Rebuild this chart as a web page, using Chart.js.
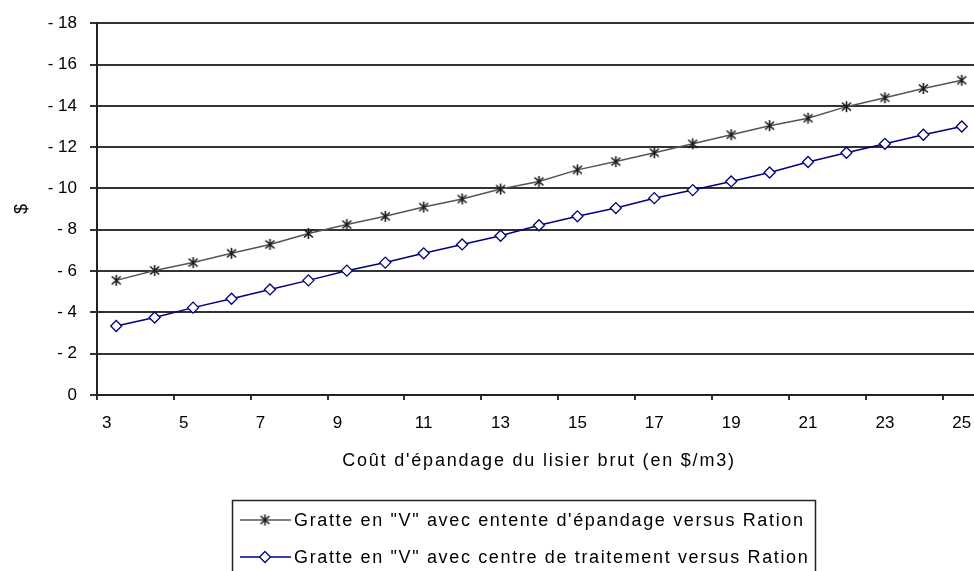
<!DOCTYPE html>
<html lang="fr">
<head>
<meta charset="utf-8">
<title>Coût d'épandage du lisier brut</title>
<script src="https://cdn.jsdelivr.net/npm/chart.js@4.4.1/dist/chart.umd.min.js"></script>
<style>
  html, body { margin: 0; padding: 0; background: #fff; overflow: hidden; }
  #wrap { position: relative; width: 990px; height: 571px; }
</style>
</head>
<body>
<div id="wrap"><canvas id="chart"></canvas></div>
<script>
/* Gratte en "V" — écart de coût vs Ration, selon le coût d'épandage */

// ── Data ────────────────────────────────────────────────────

const COSTS = [3, 4, 5, 6, 7, 8, 9, 10, 11, 12, 13, 14, 15, 16, 17, 18, 19, 20, 21, 22, 23, 24, 25];

const ENTENTE = [-5.55, -6.03, -6.41, -6.86, -7.29, -7.82, -8.25, -8.65, -9.10, -9.49, -9.97, -10.34,
                 -10.90, -11.30, -11.73, -12.16, -12.60, -13.04, -13.40, -13.96, -14.39, -14.84, -15.24];

const TRAITEMENT = [-3.34, -3.75, -4.23, -4.66, -5.11, -5.55, -6.02, -6.41, -6.86, -7.29, -7.71, -8.22,
                    -8.65, -9.05, -9.53, -9.92, -10.34, -10.77, -11.28, -11.73, -12.16, -12.60, -13.00];

const SERIES_LABELS = [
  'Gratte en "V" avec entente d\'épandage versus Ration',
  'Gratte en "V" avec centre de traitement versus Ration'
];

const X_TITLE = 'Coût d\'épandage du lisier brut (en $/m3)';
const Y_TITLE = '$';
const Y_MIN = -18, Y_MAX = 0, Y_STEP = 2;

// ── Styles ──────────────────────────────────────────────────

const FONT = "'Liberation Sans', Arial, sans-serif";
const INK = '#000';
const GRID = '#333';
const GREY_LINE = '#555';
const NAVY = '#000080';

// Excel-like "*" marker: an x with a vertical bar
function makeStar(color) {
  const c = document.createElement('canvas');
  c.width = 13; c.height = 13;
  const g = c.getContext('2d');
  g.strokeStyle = color;
  g.lineWidth = 1.6;
  g.beginPath();
  g.moveTo(6.5, 1);   g.lineTo(6.5, 12);
  g.moveTo(2, 2.5);   g.lineTo(11, 10.5);
  g.moveTo(11, 2.5);  g.lineTo(2, 10.5);
  g.stroke();
  return c;
}
const STAR = makeStar('#1a1a1a');

// ── Legend box + x title (drawn with Excel-ish letter spacing) ──

const boxLegend = {
  id: 'boxLegend',
  afterDraw(chart) {
    const ctx = chart.ctx;
    const area = chart.chartArea;
    ctx.save();

    // x axis title
    ctx.fillStyle = INK;
    ctx.font = '18px ' + FONT;
    ctx.letterSpacing = '1.8px';
    ctx.textAlign = 'center';
    ctx.textBaseline = 'middle';
    ctx.fillText(X_TITLE, (area.left + area.right) / 2, 461);

    // legend
    const textX = 294, rows = [520, 557];
    ctx.font = '18px ' + FONT;
    ctx.letterSpacing = '1.65px';
    const widest = Math.max(...SERIES_LABELS.map(t => ctx.measureText(t).width));
    ctx.letterSpacing = '0px';
    ctx.strokeStyle = '#222';
    ctx.lineWidth = 1.5;
    ctx.strokeRect(232.5, 500.5, Math.round(textX + widest + 6 - 232), 90);

    chart.data.datasets.forEach((ds, i) => {
      const y = rows[i];
      ctx.strokeStyle = ds.borderColor;
      ctx.lineWidth = ds.borderWidth;
      ctx.beginPath();
      ctx.moveTo(240, y);
      ctx.lineTo(291, y);
      ctx.stroke();
      if (ds.pointStyle === STAR) {
        ctx.drawImage(STAR, 265 - 6.5, y - 6.5);
      } else {
        const r = ds.pointRadius;
        ctx.fillStyle = ds.pointBackgroundColor;
        ctx.strokeStyle = ds.pointBorderColor;
        ctx.lineWidth = ds.pointBorderWidth;
        ctx.beginPath();
        ctx.moveTo(265, y - r);
        ctx.lineTo(265 + r, y);
        ctx.lineTo(265, y + r);
        ctx.lineTo(265 - r, y);
        ctx.closePath();
        ctx.fill();
        ctx.stroke();
      }
      ctx.fillStyle = INK;
      ctx.font = '18px ' + FONT;
      ctx.letterSpacing = '1.65px';
      ctx.textAlign = 'left';
      ctx.textBaseline = 'middle';
      ctx.fillText(SERIES_LABELS[i], textX, y + 1);
      ctx.letterSpacing = '0px';
    });

    ctx.restore();
  }
};

// ── Chart ───────────────────────────────────────────────────

new Chart(document.getElementById('chart'), {
  type: 'line',
  data: {
    labels: COSTS,
    datasets: [
      {
        label: SERIES_LABELS[0],
        data: ENTENTE,
        borderColor: GREY_LINE,
        borderWidth: 1.5,
        pointStyle: STAR,
        pointRadius: 6,
        tension: 0
      },
      {
        label: SERIES_LABELS[1],
        data: TRAITEMENT,
        borderColor: NAVY,
        borderWidth: 1.5,
        pointStyle: 'rectRot',
        pointRadius: 5.5,
        pointBorderColor: NAVY,
        pointBackgroundColor: '#fff',
        pointBorderWidth: 1.3,
        tension: 0
      }
    ]
  },
  options: {
    responsive: true,
    maintainAspectRatio: false,
    animation: false,
    layout: { padding: { top: 19, right: 9, bottom: 0, left: 0 } },
    plugins: {
      legend: { display: false },
      tooltip: { enabled: false }
    },
    scales: {
      x: {
        offset: true,
        afterFit: s => { s.height = 176; },
        grid: {
          offset: true,
          drawOnChartArea: false,
          tickLength: 5,
          lineWidth: 2,
          color: c => (c.index % 2 === 0 ? GRID : 'rgba(0,0,0,0)')
        },
        border: { display: true, color: '#222', width: 2 },
        ticks: {
          autoSkip: false,
          maxRotation: 0,
          padding: 13,
          color: INK,
          font: { family: FONT, size: 17 },
          // every other category; single digits sit left of their point in the original
          callback: function (v, i) {
            if (i % 2) return '';
            const lbl = String(this.getLabelForValue(v));
            return lbl.length === 1 ? lbl + '\u2007\u2007' : lbl;
          }
        },
        title: { display: false, text: X_TITLE }
      },
      y: {
        reverse: true,
        min: Y_MIN,
        max: Y_MAX,
        afterFit: s => { s.width = 97; },
        grid: { color: GRID, lineWidth: 2, tickLength: 7 },
        border: { display: true, color: '#222', width: 2 },
        ticks: {
          stepSize: Y_STEP,
          padding: 13,
          color: INK,
          font: { family: FONT, size: 17 },
          callback: v => (v === 0 ? '0' : '- ' + Math.abs(v))
        },
        title: {
          display: true,
          text: Y_TITLE,
          color: INK,
          font: { family: FONT, size: 18 },
          padding: { top: 11, bottom: 0 }
        }
      }
    }
  },
  plugins: [boxLegend]
});
</script>
</body>
</html>
